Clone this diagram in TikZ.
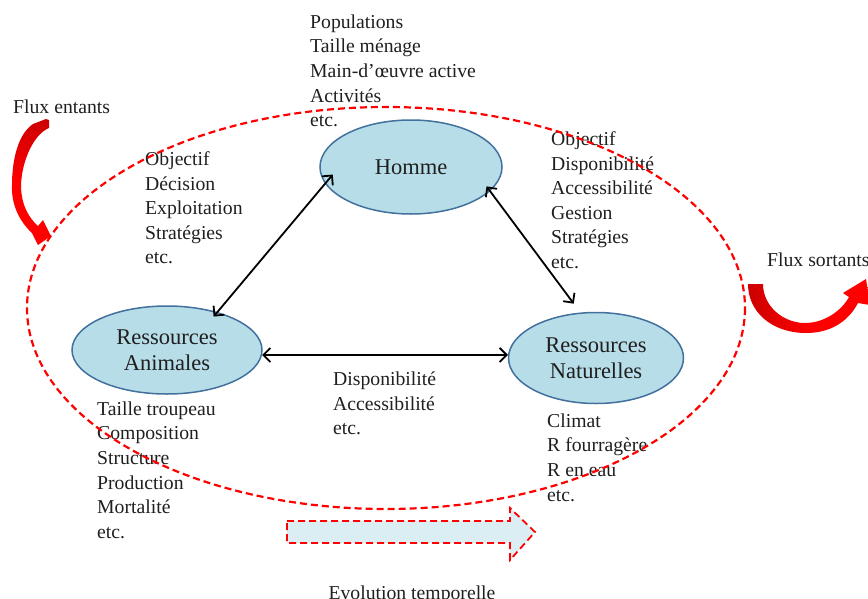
\documentclass[tikz,border=0pt]{standalone}
\usepackage{fontspec}
\setmainfont{Liberation Serif}
\usetikzlibrary{arrows.meta,shapes.geometric}
\definecolor{ellfill}{HTML}{B7DDE8}
\definecolor{elldraw}{HTML}{41719C}
\definecolor{arrfill}{HTML}{DAEEF3}
\begin{document}
\begin{tikzpicture}[x=1pt,y=-1pt,
  txt/.style={anchor=north west, inner sep=0pt, align=left, text=black!88,
    font=\fontsize{19.7}{24.6}\selectfont},
  ell/.style={ellipse, draw=elldraw, line width=1.5pt, fill=ellfill, inner sep=0pt,
    align=center, text=black!88, font=\fontsize{22.5}{26}\selectfont},
  link/.style={line width=1.8pt,
    {Straight Barb[length=7pt,width=14pt]}-{Straight Barb[length=7pt,width=14pt]}},
  fluxin/.style={draw=none, top color=red!80!black, bottom color=red, middle color=red},
  fluxout/.style={draw=none, left color=red!80!black, right color=red, middle color=red},
  reddash/.style={draw=red, line width=2.2pt, dash pattern=on 7pt off 4pt},
]
\useasboundingbox (0,0) rectangle (868,598);

% ellipse nodes
\node[ell, minimum width=182pt, minimum height=94pt] (hom) at (411,167) {Homme};
\node[ell, minimum width=190pt, minimum height=88pt] (ani) at (167,350) {Ressources\\Animales};
\node[ell, minimum width=175pt, minimum height=91pt] (nat) at (596,358) {Ressources\\Naturelles};

% links
\draw[link, shorten <=-12pt, shorten >=-6pt] (hom.191) -- (ani.37);
\draw[link, shorten <=-6pt, shorten >=11pt] (hom.-17) -- (nat.109);
\draw[link] (ani.-3) -- (nat.178);

% texts
\node[txt] (tpop) at (310,14.5) {Populations\\Taille ménage\\Main-d’œuvre active\\Activités\\etc.};
\node[txt] (tobj) at (145,151.5) {Objectif\\Décision\\Exploitation\\Stratégies\\etc.};
\node[txt] (tgest) at (551,131.5) {Objectif\\Disponibilité\\Accessibilité\\Gestion\\Stratégies\\etc.};
\node[txt] (tdisp) at (333,371.5) {Disponibilité\\Accessibilité\\etc.};
\node[txt] (ttroup) at (97,401.5) {Taille troupeau\\Composition\\Structure\\Production\\Mortalité\\etc.};
\node[txt] (tclim) at (547,413.5) {Climat\\R fourragère\\R en eau\\etc.};
\node[txt] (tin) at (13,99.5) {Flux entants};
\node[txt] (tout) at (767,252.5) {Flux sortants};
\node[anchor=base, inner sep=0pt, text=black!88, font=\fontsize{19.7}{24.6}\selectfont] (tevo) at (412,599) {Evolution temporelle};

% flux entrants arrow
\path[fluxin] (33,124) -- (46,119) -- (49,120) -- (49,128)
  .. controls (34,134) and (22,160) .. (21,185)
  .. controls (21,205) and (29,218) .. (38,226)
  -- (43,220) -- (51,236) -- (38,245) -- (32,233)
  .. controls (20,222) and (11,205) .. (12,185)
  .. controls (12,160) and (18,134) .. (33,124) -- cycle;

% flux sortants arrow
\path[fluxout] (748,284) -- (763,284)
  .. controls (763,306) and (783,323) .. (805,323)
  .. controls (825,323) and (842,310) .. (849,297)
  -- (843,293) -- (866,279) -- (870,305) -- (858,303)
  .. controls (848,322) and (830,333) .. (806,333)
  .. controls (772,333) and (748,312) .. (748,284) -- cycle;

% evolution arrow
\draw[reddash, line width=1.8pt, fill=arrfill] (287,521) -- (510,521) -- (510,508) -- (535,532)
  -- (510,560) -- (510,543) -- (287,543) -- cycle;

% system boundary
\draw[reddash] (386,308) ellipse [x radius=359, y radius=201];
\end{tikzpicture}
\end{document}
